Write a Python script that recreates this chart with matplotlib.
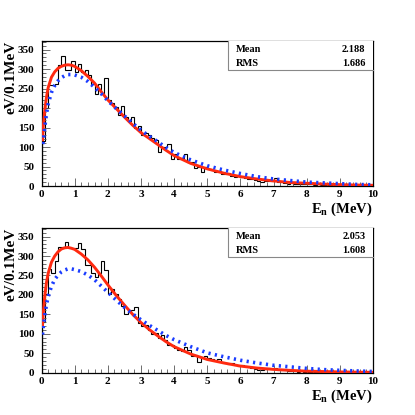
import numpy as np
import matplotlib
matplotlib.use("Agg")
import matplotlib.pyplot as plt
from matplotlib.ticker import MultipleLocator

plt.rcParams['font.family'] = ['Liberation Serif', 'DejaVu Serif']
plt.rcParams['font.weight'] = 'bold'
plt.rcParams['mathtext.fontset'] = 'custom'
plt.rcParams['mathtext.rm'] = 'Liberation Serif:bold'
plt.rcParams['mathtext.bf'] = 'Liberation Serif:bold'
plt.rcParams['mathtext.it'] = 'Liberation Serif:bold'

# ---------------- data ----------------
bin_edges = np.round(np.arange(0, 10.0001, 0.1), 2)

hist_top = [115, 200, 258, 258, 262, 310, 334, 297, 297, 320,
            292, 314, 292, 297, 284, 262, 237, 262, 235, 278,
            220, 212, 203, 182, 205, 178, 167, 176, 150, 154,
            131, 135, 131, 122, 118, 88, 101, 101, 108, 68,
            82, 68, 73, 82, 62, 62, 47, 48, 37, 50,
            43, 40, 36, 38, 31, 30, 33, 26, 24, 26,
            22, 21, 19, 17, 16, 14, 10, 13, 12, 12,
            21, 10, 9, 8, 6, 7, 6, 5, 5, 4,
            4, 4, 3, 5, 3, 3, 2, 2, 2, 2,
            1, 2, 1, 1, 1, 1, 1, 1, 0, 1]

hist_bot = [130, 202, 266, 257, 286, 324, 324, 335, 320, 320,
            320, 333, 317, 277, 277, 256, 245, 256, 286, 264,
            202, 214, 202, 189, 172, 150, 157, 161, 168, 127,
            120, 123, 110, 100, 101, 88, 97, 84, 71, 71,
            63, 58, 57, 67, 58, 43, 45, 27, 41, 43,
            38, 36, 33, 34, 28, 25, 22, 24, 20, 18,
            19, 16, 14, 12, 10, 7, 8, 10, 11, 9,
            12, 8, 6, 6, 5, 4, 5, 3, 4, 3,
            2, 2, 2, 2, 1, 2, 1, 1, 1, 1,
            1, 1, 0, 1, 0, 1, 0, 0, 0, 0]

curve_x = [0.03, 0.05, 0.1, 0.15, 0.2, 0.3, 0.4, 0.5, 0.6, 0.7, 0.8, 0.9, 1.0,
           1.2, 1.4, 1.6, 1.8, 2.0, 2.25, 2.5, 2.75, 3.0, 3.25, 3.5, 3.75, 4.0,
           4.5, 5.0, 5.5, 6.0, 6.5, 7.0, 7.5, 8.0, 8.5, 9.0, 9.5, 10.0]

red_top = [115, 150, 195, 228, 252, 279, 293, 302, 307, 310, 311, 310, 307,
           296, 281, 264, 242, 221, 199, 177, 156, 137, 122, 107, 92, 78,
           58, 44, 33, 24, 18, 13, 9, 7, 5, 3.5, 2.5, 1.8]
blue_top = [108, 112, 152, 185, 210, 240, 258, 270, 278, 283, 286, 286, 285,
            279, 268, 253, 237, 219, 199, 180, 161, 143, 128, 114, 99, 86,
            67, 52, 41, 32, 24, 18, 14, 10, 8, 6, 4, 3]

red_bot = [120, 150, 198, 232, 255, 284, 300, 311, 318, 321, 322, 320, 317,
           305, 290, 271, 249, 226, 199, 174, 150, 129, 111, 95, 80, 67,
           48, 34, 25, 17, 12, 8.5, 6, 4, 3, 2, 1.4, 1]
blue_bot = [98, 115, 148, 175, 195, 222, 240, 251, 259, 264, 267, 267, 265,
            260, 251, 239, 223, 207, 187, 168, 151, 136, 122, 109, 96, 85,
            67, 51, 41, 32, 25, 19, 15, 11, 8, 6, 4.5, 3]

stats_top = {"Mean": "2.188", "RMS": "1.686"}
stats_bot = {"Mean": "2.053", "RMS": "1.608"}

# ---------------- figure ----------------
W = H = 415
fig = plt.figure(figsize=(W / 100, H / 100), dpi=100)
fig.patch.set_facecolor('white')

def px_axes(l, t, r, b):
    return fig.add_axes([l / W, 1 - b / H, (r - l) / W, (b - t) / H])

RED = '#ff2a10'
BLUE = '#1a3cff'

def draw(ax, hist, red, blue, stats, ymax):
    ax.stairs(hist, bin_edges, color='black', lw=0.8)
    ax.plot(curve_x, red, color=RED, lw=2.1, solid_capstyle='butt', zorder=3)
    ax.plot(curve_x, blue, color=BLUE, lw=2.6, linestyle=(0, (0.6, 1.2)),
            dash_capstyle='butt', zorder=4)
    ax.set_xlim(0, 10)
    ax.set_ylim(0, ymax)
    ax.xaxis.set_major_locator(MultipleLocator(1))
    ax.xaxis.set_minor_locator(MultipleLocator(0.2))
    ax.yaxis.set_major_locator(MultipleLocator(50))
    ax.yaxis.set_minor_locator(MultipleLocator(10))
    ax.tick_params(which='both', direction='in', top=False, right=False,
                   color='#555555', width=0.6)
    ax.tick_params(which='major', length=6, labelsize=8)
    ax.tick_params(which='minor', length=3)
    ax.tick_params(axis='x', pad=3)
    ax.tick_params(axis='y', pad=5)
    for lab in ax.get_xticklabels() + ax.get_yticklabels():
        lab.set_fontweight('bold')
    for sp in ax.spines.values():
        sp.set_linewidth(0.9)
    ax.set_ylabel('eV/0.1MeV', fontsize=11, fontweight='bold', loc='top')
    ax.yaxis.set_label_coords(-0.072, 1.0)
    # stats box
    bx0, by0 = 0.563, 0.80
    ax.plot([bx0, bx0, 1.0], [1.0, by0, by0], transform=ax.transAxes,
            color='#888888', lw=0.8, clip_on=False, zorder=5)
    ax.add_patch(plt.Rectangle((bx0, by0), 1 - bx0, 1 - by0, transform=ax.transAxes,
                               facecolor='white', edgecolor='none', zorder=4.5))
    rows = list(stats.items())
    ys = [0.943, 0.847]
    for (k, v), yy in zip(rows, ys):
        ax.text(bx0 + 0.024, yy, k, transform=ax.transAxes, fontsize=7.5,
                fontweight='bold', va='center', ha='left', zorder=6)
        ax.text(0.977, yy, v, transform=ax.transAxes, fontsize=7.5,
                fontweight='bold', va='center', ha='right', zorder=6)

ax1 = px_axes(41.5, 41, 373, 186)
draw(ax1, hist_top, red_top, blue_top, stats_top, 372)
ax2 = px_axes(41.5, 228, 373, 372.7)
draw(ax2, hist_bot, red_bot, blue_bot, stats_bot, 372)

fig.text(373 / W, 1 - 209 / H, r'E$_{\mathrm{n}}$ (MeV)', fontsize=10.5,
         fontweight='bold', ha='right', va='center')
fig.text(373 / W, 1 - 396 / H, r'E$_{\mathrm{n}}$ (MeV)', fontsize=10.5,
         fontweight='bold', ha='right', va='center')

fig.savefig('out.png', dpi=100)
